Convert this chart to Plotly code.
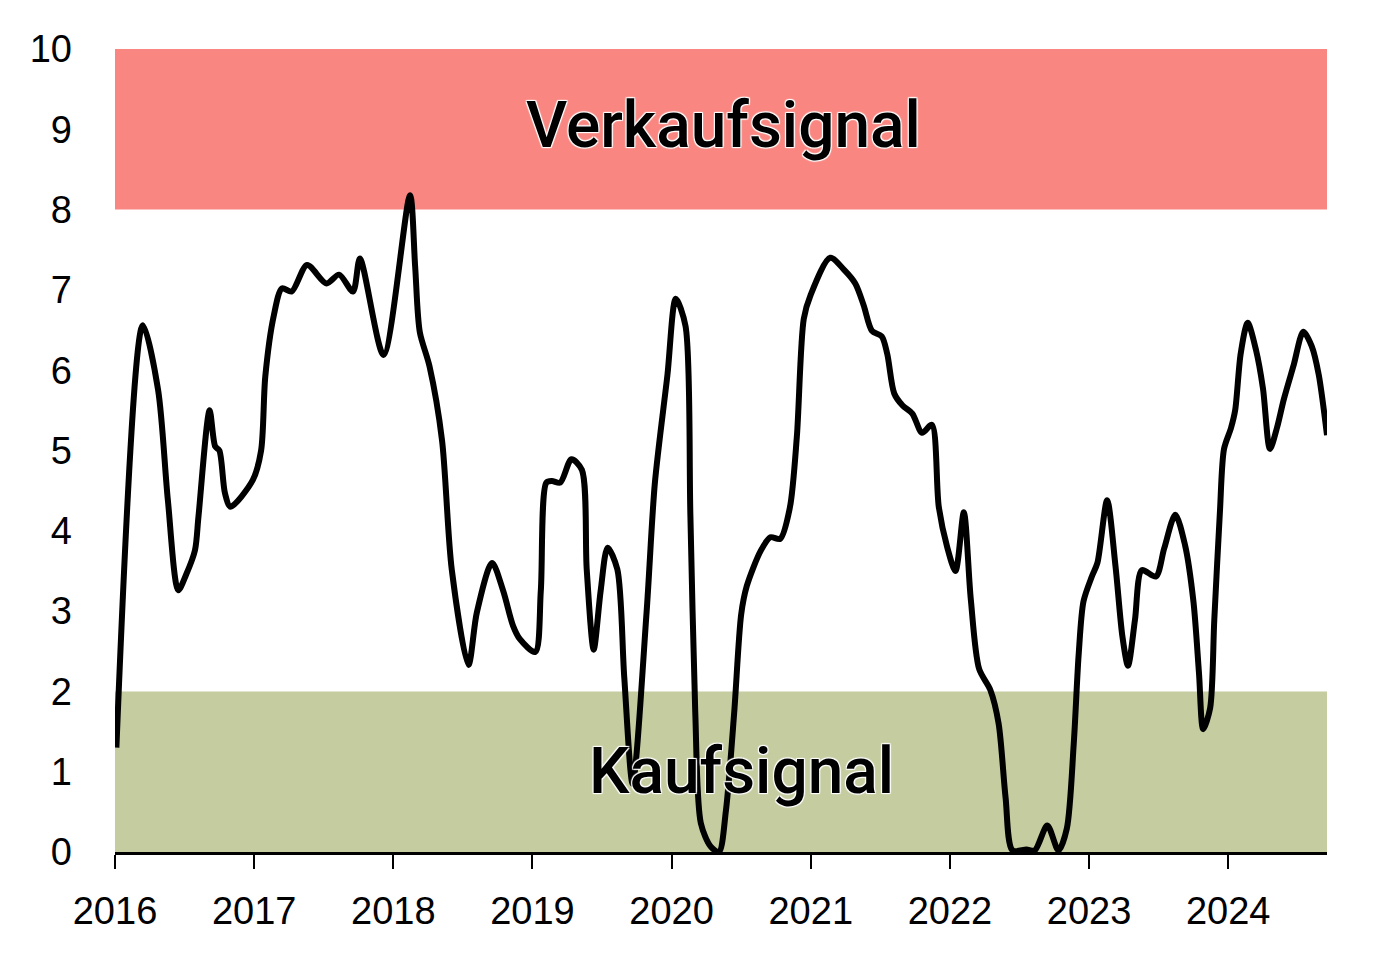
import plotly.graph_objects as go

# Decimal-year positions and indicator values
x_years = [
    2016.01, 2016.20, 2016.31, 2016.38, 2016.455, 2016.51, 2016.575, 2016.60,
    2016.68, 2016.72, 2016.75, 2016.79, 2016.83, 2016.99, 2017.05, 2017.08,
    2017.14, 2017.20, 2017.27, 2017.38, 2017.52, 2017.61, 2017.71, 2017.76,
    2017.93, 2018.12, 2018.157, 2018.19, 2018.26, 2018.35, 2018.42, 2018.54,
    2018.60, 2018.71, 2018.79, 2018.86, 2018.91, 2019.02, 2019.06, 2019.10,
    2019.14, 2019.20, 2019.28, 2019.355, 2019.39, 2019.44, 2019.49, 2019.54,
    2019.61, 2019.66, 2019.72, 2019.82, 2019.88, 2019.97, 2020.03, 2020.10,
    2020.135, 2020.17, 2020.21, 2020.28, 2020.34, 2020.39, 2020.45, 2020.50,
    2020.54, 2020.64, 2020.71, 2020.78, 2020.85, 2020.90, 2020.95, 2021.00,
    2021.14, 2021.24, 2021.32, 2021.38, 2021.44, 2021.51, 2021.55, 2021.60,
    2021.66, 2021.73, 2021.80, 2021.87, 2021.92, 2021.98, 2022.04, 2022.10,
    2022.15, 2022.21, 2022.29, 2022.35, 2022.40, 2022.45, 2022.55, 2022.61,
    2022.70, 2022.78, 2022.84, 2022.89, 2022.925, 2022.96, 2023.02, 2023.06,
    2023.13, 2023.19, 2023.24, 2023.28, 2023.33, 2023.38, 2023.48, 2023.54,
    2023.62, 2023.69, 2023.75, 2023.79, 2023.82, 2023.87, 2023.90, 2023.94,
    2023.97, 2024.02, 2024.05, 2024.09, 2024.14, 2024.20, 2024.25, 2024.30,
    2024.35, 2024.40, 2024.47, 2024.54, 2024.60, 2024.65, 2024.71,
]
values = [
    1.30, 6.56, 5.75, 4.38, 3.26, 3.45, 3.76, 4.18,
    5.50, 5.05, 5.00, 4.47, 4.30, 4.63, 5.00, 5.92,
    6.67, 7.02, 6.98, 7.31, 7.08, 7.19, 6.98, 7.39,
    6.19, 8.18, 7.29, 6.48, 6.05, 5.13, 3.52, 2.33,
    2.98, 3.60, 3.25, 2.82, 2.65, 2.49, 3.25, 4.60,
    4.62, 4.60, 4.89, 4.76, 3.52, 2.52, 3.25, 3.79,
    3.52, 2.17, 0.85, 2.98, 4.60, 5.94, 6.89, 6.55,
    4.19, 1.74, 0.36, 0.07, 0.00, 0.51, 1.74, 2.96,
    3.31, 3.75, 3.92, 3.90, 4.29, 5.17, 6.64, 6.94,
    7.40, 7.25, 7.08, 6.81, 6.49, 6.42, 6.20, 5.71,
    5.56, 5.46, 5.22, 5.32, 4.30, 3.80, 3.50, 4.23,
    3.15, 2.28, 2.02, 1.60, 0.68, 0.02, 0.03, 0.02,
    0.33, 0.02, 0.29, 1.35, 2.45, 3.12, 3.43, 3.60,
    4.38, 3.56, 2.68, 2.32, 2.89, 3.51, 3.43, 3.78,
    4.20, 3.82, 3.12, 2.23, 1.53, 1.79, 2.89, 4.22,
    5.02, 5.28, 5.50, 6.21, 6.59, 6.25, 5.77, 5.02,
    5.28, 5.64, 6.06, 6.48, 6.30, 5.95, 5.19,
]

year_ticks = [2016, 2017, 2018, 2019, 2020, 2021, 2022, 2023, 2024]
year_labels = [str(y) for y in year_ticks]
y_ticks = list(range(0, 11))
y_labels = [str(v) for v in y_ticks]

sell_zone = (8, 10)
buy_zone = (0, 2)
sell_label = "Verkaufsignal"
buy_label = "Kaufsignal"

x_min, x_max = 2016.0, 2024.71

fig = go.Figure()
fig.add_trace(go.Scatter(
    x=x_years, y=values, mode="lines",
    line=dict(color="#000000", width=6, shape="spline", smoothing=0.8),
    showlegend=False, hoverinfo="skip",
))

fig.add_shape(type="rect", xref="paper", yref="y", x0=0, x1=1,
              y0=sell_zone[0], y1=sell_zone[1], fillcolor="#F98680",
              line=dict(width=0), layer="below")
fig.add_shape(type="rect", xref="paper", yref="y", x0=0, x1=1,
              y0=buy_zone[0], y1=buy_zone[1], fillcolor="#C4CCA0",
              line=dict(width=0), layer="below")

label_font = dict(family="Roboto, Liberation Sans, Arial, sans-serif", size=64,
                  weight=500, color="#000000", shadow="auto")
fig.add_annotation(x=2020.37, y=9.05, text=sell_label, showarrow=False, font=label_font)
fig.add_annotation(x=2020.5, y=1.0, text=buy_label, showarrow=False, font=label_font)

fig.update_layout(
    width=1392, height=959,
    margin=dict(l=107, r=73, t=41, b=115),
    paper_bgcolor="#FFFFFF", plot_bgcolor="#FFFFFF",
    font=dict(family="Liberation Sans, Arial, sans-serif", size=38, color="#000000"),
    showlegend=False,
)
fig.update_xaxes(
    range=[x_min, x_max], tickmode="array", tickvals=year_ticks, ticktext=year_labels,
    showgrid=False, zeroline=False, showline=True, linecolor="#000000", linewidth=3,
    ticks="outside", ticklen=14, tickwidth=2, tickcolor="#000000",
    ticklabelstandoff=9,
)
fig.update_yaxes(
    range=[0, 10], tickmode="array", tickvals=y_ticks, ticktext=y_labels,
    showgrid=False, zeroline=False, showline=False, ticks="",
    ticklabelstandoff=42,
)

fig.write_html("out.html")
